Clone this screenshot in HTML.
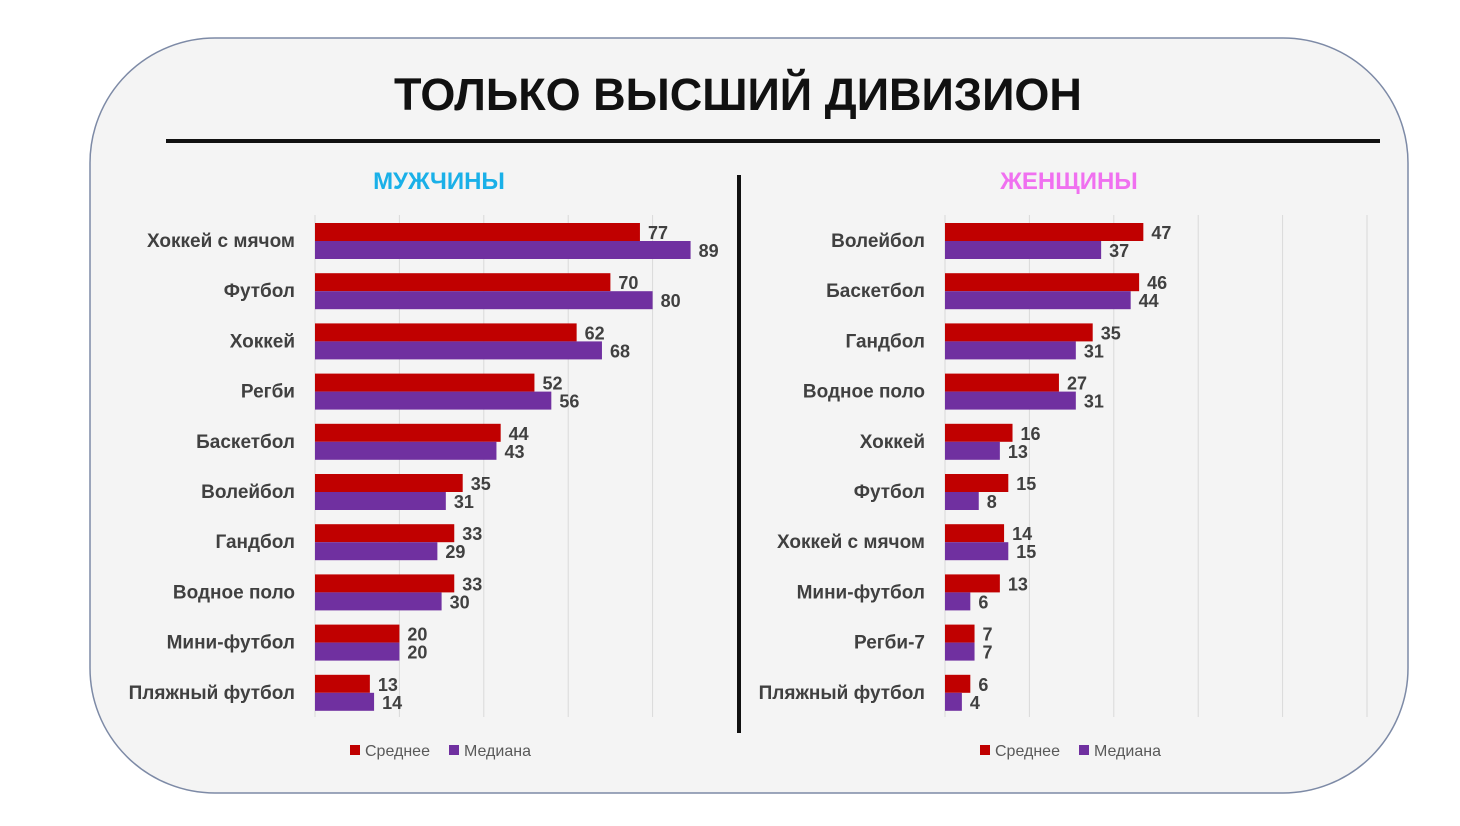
<!DOCTYPE html>
<html><head><meta charset="utf-8"><style>
body{margin:0;background:#fff;width:1460px;height:821px;overflow:hidden;font-family:"Liberation Sans","DejaVu Sans",sans-serif}
</style></head><body>
<svg width="1460" height="821" xmlns="http://www.w3.org/2000/svg" id="svg">
<rect x="90" y="38" width="1318" height="755" rx="125" fill="#f4f4f4" stroke="#7d8aa6" stroke-width="1.5"/>
<text x="738" y="110" text-anchor="middle" font-size="45" font-weight="bold" fill="#111">ТОЛЬКО ВЫСШИЙ ДИВИЗИОН</text>
<rect x="166" y="139" width="1214" height="4" fill="#111"/>
<rect x="737" y="175" width="4" height="558" fill="#111"/>
<text x="439" y="189" text-anchor="middle" font-size="24" font-weight="bold" fill="#1ab0e8">МУЖЧИНЫ</text>
<text x="1069" y="189" text-anchor="middle" font-size="24" font-weight="bold" fill="#f070f0">ЖЕНЩИНЫ</text>
<g id="charts"></g>
</svg>
<script>
const menCats=["Хоккей с мячом","Футбол","Хоккей","Регби","Баскетбол","Волейбол","Гандбол","Водное поло","Мини-футбол","Пляжный футбол"];
const menMean=[77,70,62,52,44,35,33,33,20,13];
const menMedian=[89,80,68,56,43,31,29,30,20,14];
const womenCats=["Волейбол","Баскетбол","Гандбол","Водное поло","Хоккей","Футбол","Хоккей с мячом","Мини-футбол","Регби-7","Пляжный футбол"];
const womenMean=[47,46,35,27,16,15,14,13,7,6];
const womenMedian=[37,44,31,31,13,8,15,6,7,4];
const menTicks=[0,20,40,60,80];
const womenTicks=[0,20,40,60,80,100];
const legendLabels=["Среднее","Медиана"];
const NS="http://www.w3.org/2000/svg";
const root=document.getElementById('charts');
function mk(tag,attrs,parent){const e=document.createElementNS(NS,tag);for(const k in attrs)e.setAttribute(k,attrs[k]);(parent||root).appendChild(e);return e;}
function drawChart(x0,cats,mean,median,ticks,prefix){
  const g=mk('g',{});
  
  
  const sx=v=>x0+v*4.22;
  const y0=215,y1=717,pitch=50.2,top0=223,bh=18;
  ticks.forEach(t=>{
    const l=mk('line',{x1:sx(t),x2:sx(t),y1:y0,y2:y1,stroke:'#d9d9d9','stroke-width':1},g);
    
    
  });
  cats.forEach((c,i)=>{
    const yt=top0+i*pitch;
    const lab=mk('text',{x:x0-20,y:yt+bh+6,'text-anchor':'end','font-size':19,'font-weight':'bold',fill:'#404040'},g);
    lab.textContent=c;
    
    
    const r1=mk('rect',{x:x0,y:yt,width:sx(mean[i])-x0,height:bh,fill:'#c00000'},g);
    
    
    const r2=mk('rect',{x:x0,y:yt+bh,width:sx(median[i])-x0,height:bh,fill:'#7030a0'},g);
    
    
    const t1=mk('text',{x:sx(mean[i])+8,y:yt+16,'font-size':18,'font-weight':'bold',fill:'#404040'},g);
    t1.textContent=mean[i];
    
    
    const t2=mk('text',{x:sx(median[i])+8,y:yt+bh+16,'font-size':18,'font-weight':'bold',fill:'#404040'},g);
    t2.textContent=median[i];
    
    
  });
  const lx=x0+35;
  const cols=['#c00000','#7030a0'];
  [0,1].forEach(k=>{
    const ox=lx+k*99;
    const s=mk('rect',{x:ox,y:745,width:10,height:10,fill:cols[k]},g);
    
    
    const t=mk('text',{x:ox+15,y:756,'font-size':16,fill:'#595959'},g);
    t.textContent=legendLabels[k];
    
    
  });
}
drawChart(315,menCats,menMean,menMedian,menTicks,'men');
drawChart(945,womenCats,womenMean,womenMedian,womenTicks,'women');
</script>
</body></html>
